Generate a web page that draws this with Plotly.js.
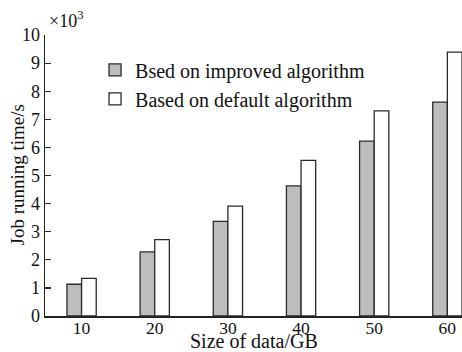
<!DOCTYPE html>
<html>
<head>
<meta charset="utf-8">
<script src="https://cdn.plot.ly/plotly-3.0.1.min.js"></script>
<style>html,body{margin:0;padding:0;background:#fff;}#chart{width:462px;height:352px;}</style>
</head>
<body>
<div id="chart"></div>
<script>
var dataSizes = [10, 20, 30, 40, 50, 60];
var improvedTimes = [1.13, 2.28, 3.37, 4.63, 6.22, 7.61];
var defaultTimes = [1.34, 2.72, 3.91, 5.54, 7.30, 9.39];
var seriesNames = ['Bsed on improved algorithm', 'Based on default algorithm'];
var yTickVals = [0, 1, 2, 3, 4, 5, 6, 7, 8, 9, 10];
var xTitle = 'Size of data/GB';
var yTitle = 'Job running time/s';

var FONT = 'Liberation Serif, Times New Roman, serif';

var traces = [
  {
    type: 'bar', name: seriesNames[0], x: dataSizes, y: improvedTimes,
    width: 2, offset: -2,
    marker: {color: '#bdbdbd', line: {color: '#2a2a2a', width: 1.3}}
  },
  {
    type: 'bar', name: seriesNames[1], x: dataSizes, y: defaultTimes,
    width: 2, offset: 0,
    marker: {color: '#ffffff', line: {color: '#2a2a2a', width: 1.3}}
  }
];

var layout = {
  width: 462, height: 352,
  margin: {l: 45, r: 0, t: 35, b: 36, pad: 0},
  paper_bgcolor: '#ffffff', plot_bgcolor: '#ffffff',
  font: {family: FONT, size: 18, color: '#111'},
  showlegend: true,
  legend: {
    x: 0.12, y: 0.945, xanchor: 'left', yanchor: 'top',
    bgcolor: 'rgba(0,0,0,0)', font: {family: FONT, size: 20, color: '#111'},
    traceorder: 'normal', itemwidth: 30, tracegroupgap: 0
  },
  xaxis: {
    range: [5, 62], tickvals: dataSizes, ticktext: dataSizes.map(String),
    ticks: 'inside', ticklen: 0, ticklabelstandoff: -5,
    showgrid: false, zeroline: false,
    showline: true, linecolor: '#222', linewidth: 1.5,
    tickfont: {family: FONT, size: 17.5}
  },
  yaxis: {
    range: [0, 10], tickvals: yTickVals, ticks: 'inside', ticklen: 6, tickwidth: 1.2, tickcolor: '#333',
    showgrid: false, zeroline: false,
    showline: true, linecolor: '#222', linewidth: 1.5,
    tickfont: {family: FONT, size: 18}
  },
  annotations: [
    {xref: 'paper', yref: 'paper', x: 0, y: 1, xanchor: 'left', yanchor: 'bottom',
     xshift: 2, yshift: 2, showarrow: false,
     text: '×10<sup>3</sup>', font: {family: FONT, size: 18, color: '#111'}},
    {xref: 'paper', yref: 'paper', x: 0.5, y: 0, xanchor: 'center', yanchor: 'bottom',
     yshift: -37, borderpad: 0, showarrow: false,
     text: xTitle, font: {family: FONT, size: 20, color: '#111'}},
    {xref: 'paper', yref: 'paper', x: 0, y: 0.5, xanchor: 'center', yanchor: 'middle',
     xshift: -28, textangle: -90, showarrow: false,
     text: yTitle, font: {family: FONT, size: 19, color: '#111'}}
  ]
};

Plotly.newPlot('chart', traces, layout, {displayModeBar: false, staticPlot: true});
</script>
</body>
</html>
